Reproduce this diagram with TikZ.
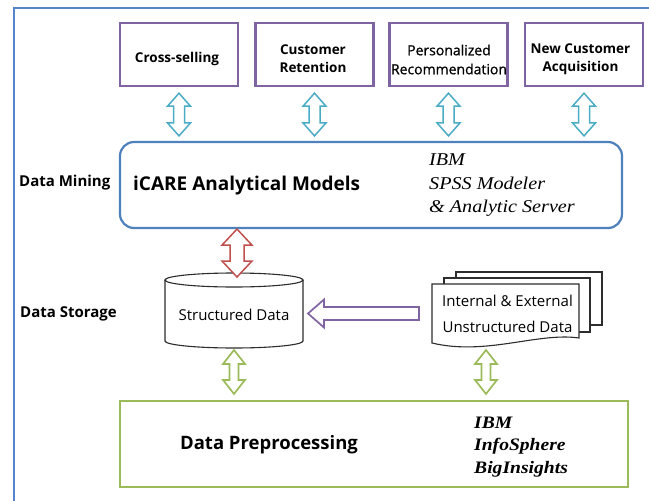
\documentclass[tikz,border=0pt]{standalone}
\usepackage{fontspec}
\setmainfont{Open Sans}
\newfontfamily\ibmfont[FakeStretch=1.12]{Liberation Serif}
\newfontfamily\medfont[FakeBold=0.8]{Open Sans}
\usetikzlibrary{shapes.misc,calc}
\definecolor{frameblue}{RGB}{84,134,206}
\definecolor{boxpurple}{RGB}{128,100,162}
\definecolor{arrcyan}{RGB}{75,172,198}
\definecolor{arrred}{RGB}{192,80,77}
\definecolor{arrgreen}{RGB}{155,187,89}
\definecolor{boxblue}{RGB}{79,129,189}
\definecolor{inkgray}{RGB}{45,45,45}
% vertical hollow double arrow: style, top point, bottom point (only its y), head half width, shaft half width, head length
\newcommand{\VDoubleArrow}[6]{%
  \path[#1] let \p1=(#2), \p2=(#3) in
    (\x1,\y1) -- (\x1+#4pt,\y1-#6pt) -- (\x1+#5pt,\y1-#6pt) -- (\x1+#5pt,\y2+#6pt)
    -- (\x1+#4pt,\y2+#6pt) -- (\x1,\y2) -- (\x1-#4pt,\y2+#6pt) -- (\x1-#5pt,\y2+#6pt)
    -- (\x1-#5pt,\y1-#6pt) -- (\x1-#4pt,\y1-#6pt) -- cycle;}
\begin{document}
\begin{tikzpicture}[x=1pt,y=-1pt,
  topbox/.style={draw=boxpurple, line width=2.4pt, fill=white, chamfered rectangle,
    chamfered rectangle corners=north east, chamfered rectangle xsep=10pt,
    chamfered rectangle ysep=10pt, minimum width=118pt, minimum height=63pt, inner sep=0pt},
  toptext/.style={align=center, inner sep=0pt, font=\fontsize{13.5}{18}\selectfont\bfseries},
  sidelabel/.style={anchor=west, inner sep=0pt, font=\fontsize{15}{18}\selectfont\bfseries},
  cyanarrow/.style={draw=arrcyan, line width=1.5pt, fill=white, line join=miter},
  redarrow/.style={draw=arrred, line width=1.5pt, fill=white, line join=miter},
  greenarrow/.style={draw=arrgreen, line width=1.7pt, fill=white, line join=miter},
  purplearrow/.style={draw=boxpurple, line width=1.7pt, fill=white, line join=miter},
  docline/.style={draw=inkgray, line width=1.1pt, fill=white},
  plaintext/.style={inner sep=0pt, font=\fontsize{15}{26}\selectfont, align=center},
  ibmtext/.style={inner sep=0pt, anchor=north west, align=left}
]
\useasboundingbox (0,0) rectangle (649,501);
\fill[white] (0,0) rectangle (649,501);
% outer frame
\draw[frameblue, line width=2.5pt] (14,501) -- (14,8) -- (649,8);

% top boxes
\node[topbox] (b1) at (179,54.5) {};
\node[topbox] (b2) at (314.5,54.5) {};
\node[topbox] (b3) at (448.5,54.5) {};
\node[topbox] (b4) at (584,54.5) {};
\node[toptext] (b1t) at (177,59) {Cross-selling};
\node[toptext] (b2t) at (313,59) {Customer\\Retention};
\node[toptext, font=\fontsize{14}{19}\selectfont\medfont] (b3t) at (449,59.5) {Personalized\\Recommendation};
\node[toptext] (b4t) at (580.5,59) {New Customer\\Acquisition};

% data mining box
\node[draw=boxblue, line width=2.2pt, rounded corners=14pt, minimum width=502pt,
  minimum height=86pt, inner sep=0pt] (dm) at (371,185) {};
\node[sidelabel] (dml) at (19,183) {Data Mining};
\node[anchor=west, inner sep=0pt, font=\fontsize{19}{22}\selectfont\bfseries] (icare) at (133,186) {iCARE Analytical Models};
\node[ibmtext, font=\fontsize{18}{23.5}\selectfont\ibmfont\itshape] (spss) at (429,154) {IBM\\SPSS Modeler\\\& Analytic Server};

% cyan arrows
\foreach \b in {b1,b2,b3,b4}{
  \VDoubleArrow{cyanarrow}{[yshift=-6pt]\b.south}{[yshift=5pt]dm.north}{11.5}{5.5}{13}
}

% data storage
\node[sidelabel] (dsl) at (20,314) {Data Storage};
\coordinate (sdN) at (234,273);
\coordinate (sdS) at (234,348);
\coordinate (sdE) at (303,313.5);
\fill[white] (165,280) -- (165,341) arc[start angle=180, end angle=0, x radius=69, y radius=7] -- (303,280) -- cycle;
\draw[inkgray, line width=1.1pt] (165,280) -- (165,341) arc[start angle=180, end angle=0, x radius=69, y radius=7] -- (303,280);
\draw[inkgray, line width=1.1pt] (234,280) ellipse[x radius=69, y radius=7];
\node[plaintext] (sd) at (234,315) {Structured Data};

% document stack
\draw[docline] (456,272) rectangle (602,325);
\draw[docline] (444,278) rectangle (590,332);
\draw[docline] (432,284) -- (579,284) -- (579,338) .. controls (538,332) and (486,356) .. (432,343) -- cycle;
\node[plaintext] (ud) at (507.5,313.5) {Internal \& External\\Unstructured Data};
\coordinate (udW) at (432,313.5);
\coordinate (udS) at (486,347);

% red arrow
\coordinate (redtop) at (sdN |- dm.south);
\VDoubleArrow{redarrow}{[xshift=3pt]redtop}{[yshift=-4pt]sdN}{15}{7}{16}

% purple arrow (from unstructured to structured)
\path[purplearrow] let \p1=([xshift=5pt]sdE), \p2=([xshift=-13pt]udW) in
  (\x1,\y1) -- (\x1+16pt,\y1+14pt) -- (\x1+16pt,\y1+6.5pt) -- (\x2,\y1+6.5pt)
  -- (\x2,\y1-6.5pt) -- (\x1+16pt,\y1-6.5pt) -- (\x1+16pt,\y1-14pt) -- cycle;

% preprocessing box
\node[draw=arrgreen, line width=2.2pt, minimum width=508pt, minimum height=86pt, inner sep=0pt] (pp) at (374,444) {};
\node[inner sep=0pt, font=\fontsize{18.5}{22}\selectfont\bfseries] (ppt) at (269,445) {Data Preprocessing};
\node[ibmtext, font=\fontsize{17.5}{22.5}\selectfont\ibmfont\bfseries\itshape] (big) at (474,416.5) {IBM\\InfoSphere\\BigInsights};

% green arrows
\VDoubleArrow{greenarrow}{[yshift=-2pt]sdS}{[yshift=6pt]pp.north}{11}{4.5}{14}
\VDoubleArrow{greenarrow}{[yshift=-3pt]udS}{[yshift=6pt]pp.north}{11}{4.5}{14}
\end{tikzpicture}
\end{document}
